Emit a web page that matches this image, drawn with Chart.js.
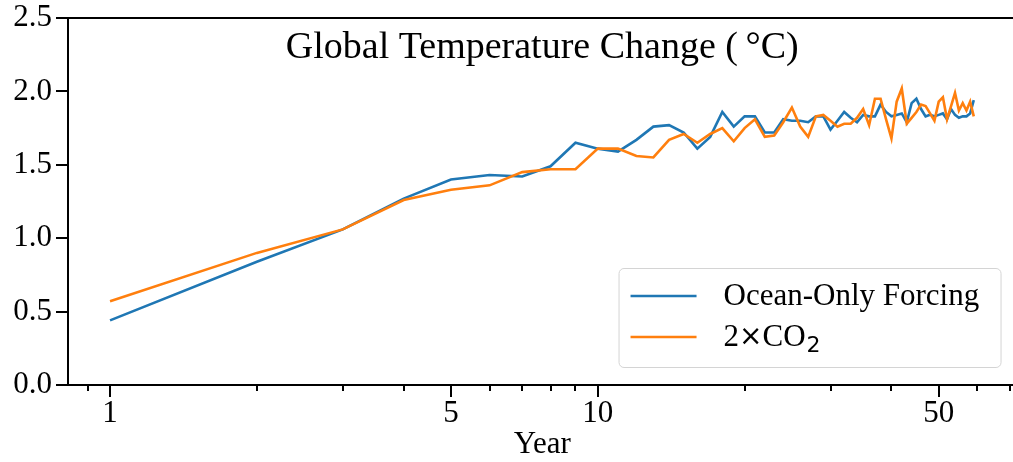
<!DOCTYPE html>
<html>
<head>
<meta charset="utf-8">
<script src="https://cdn.jsdelivr.net/npm/chart.js@4.4.1/dist/chart.umd.min.js"></script>
<style>
  html, body { margin: 0; padding: 0; background: #fff; overflow: hidden; }
  #wrap { position: relative; width: 1020px; height: 462px; }
</style>
</head>
<body>
<div id="wrap"><canvas id="chart"></canvas></div>
<script>
// --- DATA ---
const years = [1, 2, 3, 4, 5, 6, 7, 8, 9, 10, 11, 12, 13, 14, 15, 16, 17, 18, 19, 20,
    21, 22, 23, 24, 25, 26, 27, 28, 29, 30, 31, 32, 33, 34, 35, 36, 37, 38, 39, 40,
    41, 42, 43, 44, 45, 46, 47, 48, 49, 50, 51, 52, 53, 54, 55, 56, 57, 58, 59];
const oceanOnly = [0.44, 0.84, 1.06, 1.27, 1.40, 1.43, 1.42, 1.49, 1.65, 1.61,
    1.59, 1.67, 1.76, 1.77, 1.72, 1.61, 1.69, 1.86, 1.76, 1.83,
    1.83, 1.72, 1.72, 1.81, 1.80, 1.80, 1.79, 1.83, 1.83, 1.74,
    1.80, 1.86, 1.82, 1.79, 1.84, 1.83, 1.83, 1.91, 1.86, 1.83,
    1.84, 1.85, 1.79, 1.92, 1.95, 1.88, 1.83, 1.84, 1.83, 1.84,
    1.85, 1.81, 1.88, 1.84, 1.82, 1.83, 1.83, 1.85, 1.94];
const doubleCO2 = [0.57, 0.90, 1.06, 1.26, 1.33, 1.36, 1.45, 1.47, 1.47, 1.61,
    1.61, 1.56, 1.55, 1.67, 1.71, 1.65, 1.71, 1.75, 1.66, 1.75,
    1.81, 1.69, 1.70, 1.79, 1.89, 1.76, 1.69, 1.83, 1.84, 1.80,
    1.76, 1.78, 1.78, 1.82, 1.88, 1.77, 1.95, 1.95, 1.81, 1.68,
    1.93, 2.02, 1.78, 1.82, 1.86, 1.91, 1.90, 1.85, 1.80, 1.93,
    1.96, 1.81, 1.90, 1.99, 1.87, 1.92, 1.87, 1.93, 1.83];
const seriesNames = ["Ocean-Only Forcing", "2×CO₂"];
const seriesColors = ["#1f77b4", "#ff7f0e"];
const majorYears = [1, 5, 10, 50];
const minorYears = [0.9, 2, 3, 4, 6, 7, 8, 9, 20, 30, 40, 60, 70];
const tempTicks = [0, 0.5, 1, 1.5, 2, 2.5];
const chartTitle = "Global Temperature Change (\u2009°C)";

const SERIF = "'Liberation Serif', 'Times New Roman', serif";
const SANS = "'DejaVu Sans', sans-serif";

// legend label with real subscript digits drawn a bit smaller and lower
const drawLabel = (ctx, text, x, y) => {
    let cx = x;
    for (const ch of text) {
        const code = ch.codePointAt(0);
        if (code >= 0x2080 && code <= 0x2089) {
            ctx.font = `22px ${SANS}`;
            const d = String(code - 0x2080);
            ctx.fillText(d, cx + 1, y + 8);
            cx += ctx.measureText(d).width + 1;
        } else {
            ctx.font = ch === '×' ? `28px ${SANS}` : `31px ${SERIF}`;
            ctx.fillText(ch, cx, y);
            cx += ctx.measureText(ch).width;
        }
    }
};

// --- FRAME, TICKS, TITLE, LEGEND ---
const frame = {
    id: 'frame',
    afterDatasetsDraw(chart) {
        const { ctx, chartArea: a, scales: { x, y } } = chart;
        ctx.save();
        ctx.strokeStyle = '#000';
        ctx.lineWidth = 2;
        ctx.strokeRect(a.left, a.top, a.right - a.left, a.bottom - a.top);

        ctx.beginPath();
        x.ticks.forEach(t => {
            const px = Math.round(x.getPixelForValue(t.value));
            const len = majorYears.includes(t.value) ? 12 : 6;
            ctx.moveTo(px, a.bottom); ctx.lineTo(px, a.bottom + len);
        });
        y.ticks.forEach(t => {
            const py = Math.round(y.getPixelForValue(t.value));
            ctx.moveTo(a.left, py); ctx.lineTo(a.left - 12, py);
        });
        ctx.stroke();

        ctx.fillStyle = '#000';
        ctx.font = `38px ${SERIF}`;
        ctx.textAlign = 'center';
        ctx.textBaseline = 'alphabetic';
        ctx.fillText(chartTitle, (a.left + a.right) / 2, a.top + 40);

        // legend box, bottom right
        const bw = 382, bh = 99, bx = a.right - 398, by = a.bottom - 117;
        ctx.beginPath();
        ctx.roundRect(bx + 0.5, by + 0.5, bw, bh, 5);
        ctx.fillStyle = 'rgba(255,255,255,0.8)';
        ctx.fill();
        ctx.strokeStyle = '#d4d4d4';
        ctx.lineWidth = 1;
        ctx.stroke();

        ctx.textAlign = 'left';
        ctx.textBaseline = 'middle';
        chart.data.datasets.forEach((ds, i) => {
            const cy = by + 28 + i * 41;
            ctx.beginPath();
            ctx.strokeStyle = ds.borderColor;
            ctx.lineWidth = 2.6;
            ctx.moveTo(bx + 12, cy); ctx.lineTo(bx + 78, cy);
            ctx.stroke();
            ctx.fillStyle = '#000';
            drawLabel(ctx, ds.label, bx + 105, cy + 1);
        });
        ctx.restore();
    }
};

const toPoints = vals => years.map((yr, i) => ({ x: yr, y: vals[i] }));

new Chart(document.getElementById('chart'), {
    type: 'line',
    data: {
        datasets: [
            { label: seriesNames[0], data: toPoints(oceanOnly), borderColor: seriesColors[0], borderWidth: 2.6, pointRadius: 0, tension: 0, order: 2 },
            { label: seriesNames[1], data: toPoints(doubleCO2), borderColor: seriesColors[1], borderWidth: 2.6, pointRadius: 0, tension: 0, order: 1 }
        ]
    },
    options: {
        responsive: true,
        maintainAspectRatio: false,
        animation: false,
        layout: { autoPadding: false, padding: { top: 18, right: 2, left: 0, bottom: 0 } },
        plugins: { legend: { display: false }, tooltip: { enabled: false } },
        scales: {
            x: {
                type: 'logarithmic',
                min: 0.82,
                max: 72.2,
                grid: { display: false, drawTicks: false },
                border: { display: false },
                afterBuildTicks: s => {
                    s.ticks = [...minorYears, ...majorYears].sort((p, q) => p - q).map(v => ({ value: v }));
                },
                afterFit: s => { s.height = 77; },
                ticks: {
                    autoSkip: false, maxRotation: 0, padding: 10, color: '#000',
                    font: { family: SERIF, size: 31 },
                    callback: v => majorYears.includes(v) ? String(v) : ''
                },
                title: {
                    display: true, text: 'Year', color: '#000',
                    font: { family: SERIF, size: 31, lineHeight: 1 },
                    padding: { top: 0, bottom: 2 }
                }
            },
            y: {
                min: 0,
                max: 2.5,
                grid: { display: false, drawTicks: false },
                border: { display: false },
                afterBuildTicks: s => { s.ticks = tempTicks.map(v => ({ value: v })); },
                afterFit: s => { s.width = 68; s.paddingTop = 0; s.paddingBottom = 0; },
                ticks: {
                    padding: 16, color: '#000',
                    font: { family: SERIF, size: 31, lineHeight: 1.16 },
                    callback: v => v.toFixed(1)
                }
            }
        }
    },
    plugins: [frame]
});
</script>
</body>
</html>
